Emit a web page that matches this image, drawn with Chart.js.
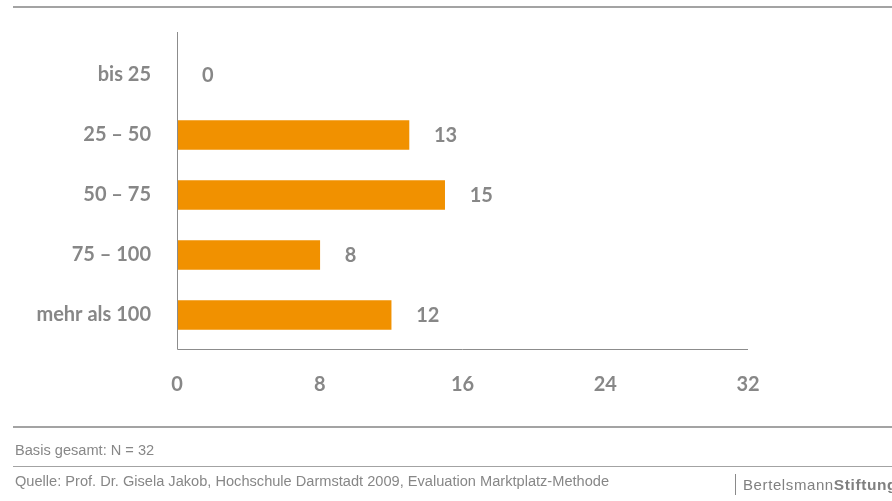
<!DOCTYPE html>
<html lang="de">
<head>
<meta charset="utf-8">
<title>Alter der Teilnehmer</title>
<script src="https://cdn.jsdelivr.net/npm/chart.js@4/dist/chart.umd.min.js"></script>
<style>
  html, body { margin: 0; padding: 0; background: #ffffff; overflow: hidden; }
  #wrap { position: relative; width: 892px; height: 501px; overflow: hidden; }
  #chart { position: absolute; left: 0; top: 0; }
  .rule { position: absolute; left: 13px; right: 0; background: #a3a3a3; }
  .note { position: absolute; left: 15px; font-family: "Liberation Sans", sans-serif;
          font-size: 15.5px; color: #878787; white-space: nowrap; line-height: 15px;
          transform: scaleX(0.942); transform-origin: 0 0; }
  #brand { position: absolute; left: 735px; top: 474px; height: 21px; border-left: 1px solid #8a8a8a;
           padding-left: 7px; font-family: "Liberation Sans", sans-serif; font-size: 15px; color: #808080;
           letter-spacing: 0.6px; line-height: 21px; white-space: nowrap; }
  #brand b { font-weight: bold; font-size: 15.5px; }
</style>
</head>
<body>
<div id="wrap">
  <canvas id="chart" width="892" height="501"></canvas>
  <div class="rule" style="top:6px;height:2px;"></div>
  <div class="rule" style="top:426px;height:2px;"></div>
  <div class="rule" style="top:466px;height:1px;"></div>
  <div class="note" style="top:442px;">Basis gesamt: N = 32</div>
  <div class="note" style="top:473px;">Quelle: Prof. Dr. Gisela Jakob, Hochschule Darmstadt 2009, Evaluation Marktplatz-Methode</div>
  <div id="brand">Bertelsmann<b>Stiftung</b></div>
</div>
<script>
// Age groups and number of answers per group
const categories = ['bis 25', '25 – 50', '50 – 75', '75 – 100', 'mehr als 100'];
const counts = [0, 13, 15, 8, 12];
const xTicks = [0, 8, 16, 24, 32];

const GREY = '#878787';
const ORANGE = '#f19100';
const LABEL_FONT = { family: 'Lato, "Open Sans", sans-serif', size: 20, weight: 'bold' };

// Axis lines drawn slightly past the plot area, plus value labels beside the bars
const decorations = {
  id: 'decorations',
  afterDatasetsDraw(chart) {
    const { ctx, chartArea } = chart;
    const x = chart.scales.x;
    const left = Math.round(x.getPixelForValue(0)) + 0.5;
    const right = x.getPixelForValue(32);
    const bottom = chartArea.bottom + 4.5;
    ctx.save();
    ctx.strokeStyle = '#8c8c8c';
    ctx.lineWidth = 1;
    ctx.beginPath();
    ctx.moveTo(left, chartArea.top - 13);
    ctx.lineTo(left, bottom);
    ctx.lineTo(right, bottom);
    ctx.stroke();

    ctx.fillStyle = GREY;
    ctx.font = `${LABEL_FONT.weight} ${LABEL_FONT.size}px ${LABEL_FONT.family}`;
    ctx.textAlign = 'left';
    ctx.textBaseline = 'middle';
    const meta = chart.getDatasetMeta(0);
    meta.data.forEach((bar, i) => {
      ctx.fillText(String(counts[i]), x.getPixelForValue(counts[i]) + 25, bar.y + 1);
    });
    ctx.restore();
  }
};

new Chart(document.getElementById('chart'), {
  type: 'bar',
  data: {
    labels: categories,
    datasets: [{
      data: counts,
      backgroundColor: ORANGE,
      borderWidth: 0,
      barThickness: 29
    }]
  },
  options: {
    indexAxis: 'y',
    responsive: false,
    animation: false,
    events: [],
    layout: { padding: { top: 45, right: 144, bottom: 96, left: 0 } },
    plugins: { legend: { display: false }, tooltip: { enabled: false } },
    scales: {
      x: {
        min: 0, max: 32,
        afterFit(scale) { scale.height = 60; },
        afterBuildTicks(scale) { scale.ticks = xTicks.map(v => ({ value: v })); },
        grid: { display: false, drawTicks: false },
        border: { display: false },
        ticks: { color: GREY, font: LABEL_FONT, padding: 28, maxRotation: 0 }
      },
      y: {
        afterFit(scale) { scale.width = 177; },
        grid: { display: false, drawTicks: false },
        border: { display: false },
        ticks: { color: GREY, font: LABEL_FONT, padding: 26 }
      }
    }
  },
  plugins: [decorations]
});
</script>
</body>
</html>
